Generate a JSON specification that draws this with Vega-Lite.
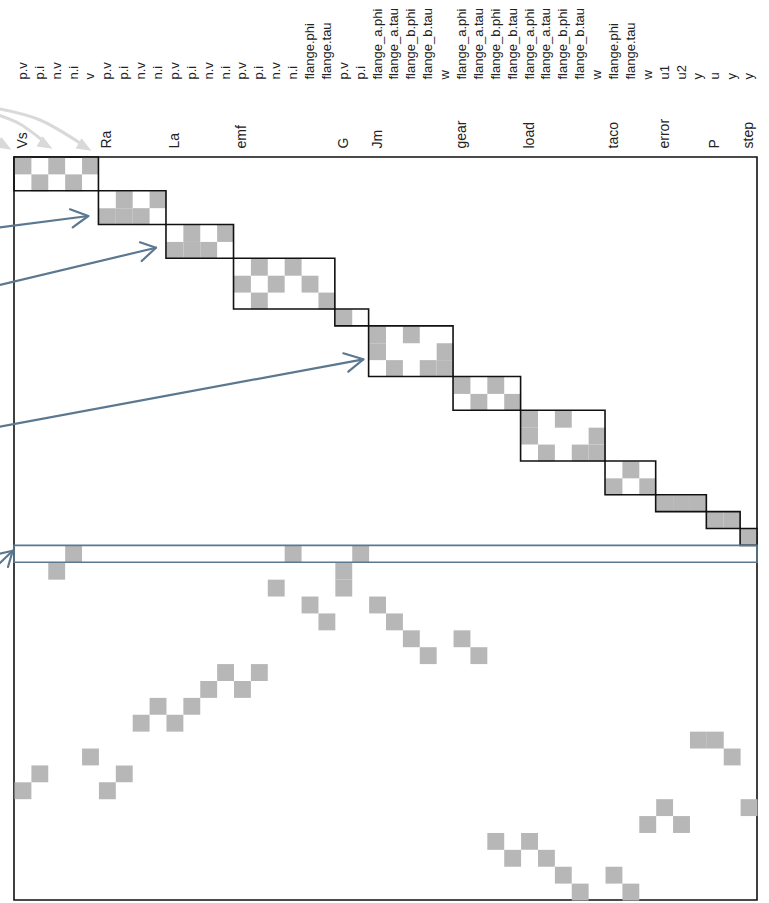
{
  "$schema": "https://vega.github.io/schema/vega-lite/v6.json",
  "width": 743,
  "height": 743,
  "autosize": "none",
  "padding": {"left": 14, "top": 157, "right": 12, "bottom": 3},
  "background": "white",
  "datasets": {
    "cells": [
      {"row": 0, "col": 0}, {"row": 0, "col": 2}, {"row": 0, "col": 4},
      {"row": 1, "col": 1}, {"row": 1, "col": 3},
      {"row": 2, "col": 6}, {"row": 2, "col": 8},
      {"row": 3, "col": 5}, {"row": 3, "col": 6}, {"row": 3, "col": 7},
      {"row": 4, "col": 10}, {"row": 4, "col": 12},
      {"row": 5, "col": 9}, {"row": 5, "col": 10}, {"row": 5, "col": 11},
      {"row": 6, "col": 14}, {"row": 6, "col": 16},
      {"row": 7, "col": 13}, {"row": 7, "col": 15}, {"row": 7, "col": 17},
      {"row": 8, "col": 14}, {"row": 8, "col": 18},
      {"row": 9, "col": 19},
      {"row": 10, "col": 21}, {"row": 10, "col": 23},
      {"row": 11, "col": 21}, {"row": 11, "col": 25},
      {"row": 12, "col": 22}, {"row": 12, "col": 24}, {"row": 12, "col": 25},
      {"row": 13, "col": 26}, {"row": 13, "col": 28},
      {"row": 14, "col": 27}, {"row": 14, "col": 29},
      {"row": 15, "col": 30}, {"row": 15, "col": 32},
      {"row": 16, "col": 30}, {"row": 16, "col": 34},
      {"row": 17, "col": 31}, {"row": 17, "col": 33}, {"row": 17, "col": 34},
      {"row": 18, "col": 36},
      {"row": 19, "col": 35}, {"row": 19, "col": 37},
      {"row": 20, "col": 38}, {"row": 20, "col": 39}, {"row": 20, "col": 40},
      {"row": 21, "col": 41}, {"row": 21, "col": 42},
      {"row": 22, "col": 43},
      {"row": 23, "col": 3}, {"row": 23, "col": 16}, {"row": 23, "col": 20},
      {"row": 24, "col": 2}, {"row": 24, "col": 19},
      {"row": 25, "col": 15}, {"row": 25, "col": 19},
      {"row": 26, "col": 17}, {"row": 26, "col": 21},
      {"row": 27, "col": 18}, {"row": 27, "col": 22},
      {"row": 28, "col": 23}, {"row": 28, "col": 26},
      {"row": 29, "col": 24}, {"row": 29, "col": 27},
      {"row": 30, "col": 12}, {"row": 30, "col": 14},
      {"row": 31, "col": 11}, {"row": 31, "col": 13},
      {"row": 32, "col": 8}, {"row": 32, "col": 10},
      {"row": 33, "col": 7}, {"row": 33, "col": 9},
      {"row": 34, "col": 40}, {"row": 34, "col": 41},
      {"row": 35, "col": 4}, {"row": 35, "col": 42},
      {"row": 36, "col": 1}, {"row": 36, "col": 6},
      {"row": 37, "col": 0}, {"row": 37, "col": 5},
      {"row": 38, "col": 38}, {"row": 38, "col": 43},
      {"row": 39, "col": 37}, {"row": 39, "col": 39},
      {"row": 40, "col": 28}, {"row": 40, "col": 30},
      {"row": 41, "col": 29}, {"row": 41, "col": 31},
      {"row": 42, "col": 32}, {"row": 42, "col": 35},
      {"row": 43, "col": 33}, {"row": 43, "col": 36}
    ],
    "blocks": [
      {"name": "Vs", "c0": 0, "c1": 5, "r0": 0, "r1": 2},
      {"name": "Ra", "c0": 5, "c1": 9, "r0": 2, "r1": 4},
      {"name": "La", "c0": 9, "c1": 13, "r0": 4, "r1": 6},
      {"name": "emf", "c0": 13, "c1": 19, "r0": 6, "r1": 9},
      {"name": "G", "c0": 19, "c1": 21, "r0": 9, "r1": 10},
      {"name": "Jm", "c0": 21, "c1": 26, "r0": 10, "r1": 13},
      {"name": "gear", "c0": 26, "c1": 30, "r0": 13, "r1": 15},
      {"name": "load", "c0": 30, "c1": 35, "r0": 15, "r1": 18},
      {"name": "taco", "c0": 35, "c1": 38, "r0": 18, "r1": 20},
      {"name": "error", "c0": 38, "c1": 41, "r0": 20, "r1": 21},
      {"name": "P", "c0": 41, "c1": 43, "r0": 21, "r1": 22},
      {"name": "step", "c0": 43, "c1": 44, "r0": 22, "r1": 23}
    ],
    "highlight": [{"c0": 0, "c1": 44, "r0": 23, "r1": 24}],
    "bluearrows": [
      {"seg": "a1s", "k": 0, "u": -0.83, "v": 4.163}, {"seg": "a1s", "k": 1, "u": 4.40, "v": 3.494},
      {"seg": "a1h", "k": 0, "u": 3.316, "v": 3.097}, {"seg": "a1h", "k": 1, "u": 4.40, "v": 3.494}, {"seg": "a1h", "k": 2, "u": 3.476, "v": 4.163},
      {"seg": "a2s", "k": 0, "u": -0.83, "v": 7.58}, {"seg": "a2s", "k": 1, "u": 8.409, "v": 5.371},
      {"seg": "a2h", "k": 0, "u": 7.462, "v": 5.052}, {"seg": "a2h", "k": 1, "u": 8.409, "v": 5.371}, {"seg": "a2h", "k": 2, "u": 7.562, "v": 6.159},
      {"seg": "a3s", "k": 0, "u": -0.83, "v": 15.972}, {"seg": "a3s", "k": 1, "u": 20.686, "v": 11.98},
      {"seg": "a3h", "k": 0, "u": 19.502, "v": 11.625}, {"seg": "a3h", "k": 1, "u": 20.686, "v": 11.98}, {"seg": "a3h", "k": 2, "u": 19.798, "v": 12.715},
      {"seg": "a4s", "k": 0, "u": -0.83, "v": 24.044}, {"seg": "a4s", "k": 1, "u": -0.077, "v": 23.315},
      {"seg": "a4h", "k": 0, "u": -1.054, "v": 23.543}, {"seg": "a4h", "k": 1, "u": -0.077, "v": 23.315}, {"seg": "a4h", "k": 2, "u": -0.355, "v": 24.281}
    ],
    "grayshafts": [
      {"seg": "A", "k": 0, "u": -1.125, "v": -2.546}, {"seg": "A", "k": 1, "u": 0.355, "v": -1.954}, {"seg": "A", "k": 2, "u": 1.658, "v": -1.007},
      {"seg": "B", "k": 0, "u": -1.125, "v": -2.902}, {"seg": "B", "k": 1, "u": 1.54, "v": -2.191}, {"seg": "B", "k": 2, "u": 3.909, "v": -0.829},
      {"seg": "C", "k": 0, "u": -1.3, "v": -1.6}, {"seg": "C", "k": 1, "u": -0.829, "v": -1.007}
    ],
    "grayheads": [
      {"u": 1.895, "v": -0.711},
      {"u": 4.205, "v": -0.592},
      {"u": -0.533, "v": -0.651}
    ]
  },
  "layer": [
    {
      "data": {"name": "cells"},
      "mark": {"type": "rect", "fill": "#b7b7b7", "stroke": null},
      "encoding": {
        "x": {"field": "col", "type": "quantitative", "bin": {"step": 1, "extent": [0, 44], "nice": false}, "scale": {"domain": [0, 44], "nice": false, "zero": false}, "axis": null},
        "y": {"field": "row", "type": "quantitative", "bin": {"step": 1, "extent": [0, 44], "nice": false}, "scale": {"domain": [0, 44], "nice": false, "zero": false, "reverse": true}, "axis": null}
      }
    },
    {
      "data": {"name": "blocks"},
      "mark": {"type": "rect", "filled": false, "stroke": "#111111", "strokeWidth": 1.6},
      "encoding": {
        "x": {"field": "c0", "type": "quantitative", "scale": {"domain": [0, 44], "nice": false, "zero": false},
          "axis": {"orient": "top", "title": null, "grid": false, "domain": false, "ticks": false, "tickSize": 0,
            "values": [0.5, 5.5, 9.5, 13.5, 19.5, 21.5, 26.5, 30.5, 35.5, 38.5, 41.5, 43.5],
            "labelExpr": "['Vs','Ra','La','emf','G','Jm','gear','load','taco','error','P','step'][indexof([0.5,5.5,9.5,13.5,19.5,21.5,26.5,30.5,35.5,38.5,41.5,43.5], datum.value)]",
            "labelAngle": -90, "labelAlign": "left", "labelBaseline": "middle", "labelPadding": 9, "labelFontSize": 14, "labelFont": "Liberation Sans", "labelColor": "#222222",
            "labelOverlap": false, "labelFlush": false, "labelBound": false}},
        "x2": {"field": "c1"},
        "y": {"field": "r0", "type": "quantitative", "scale": {"domain": [0, 44], "nice": false, "zero": false, "reverse": true}, "axis": null},
        "y2": {"field": "r1"}
      }
    },
    {
      "data": {"name": "highlight"},
      "mark": {"type": "rect", "filled": false, "stroke": "#5b7890", "strokeWidth": 1.6},
      "encoding": {
        "x": {"field": "c0", "type": "quantitative", "scale": {"domain": [0, 44], "nice": false, "zero": false},
          "axis": {"orient": "top", "offset": 70, "title": null, "grid": false, "domain": false, "ticks": false, "tickSize": 0,
            "values": [0.5, 1.5, 2.5, 3.5, 4.5, 5.5, 6.5, 7.5, 8.5, 9.5, 10.5, 11.5, 12.5, 13.5, 14.5, 15.5, 16.5, 17.5, 18.5, 19.5, 20.5, 21.5, 22.5, 23.5, 24.5, 25.5, 26.5, 27.5, 28.5, 29.5, 30.5, 31.5, 32.5, 33.5, 34.5, 35.5, 36.5, 37.5, 38.5, 39.5, 40.5, 41.5, 42.5, 43.5],
            "labelExpr": "['p.v','p.i','n.v','n.i','v','p.v','p.i','n.v','n.i','p.v','p.i','n.v','n.i','p.v','p.i','n.v','n.i','flange.phi','flange.tau','p.v','p.i','flange_a.phi','flange_a.tau','flange_b.phi','flange_b.tau','w','flange_a.phi','flange_a.tau','flange_b.phi','flange_b.tau','flange_a.phi','flange_a.tau','flange_b.phi','flange_b.tau','w','flange.phi','flange.tau','w','u1','u2','y','u','y','y'][floor(datum.value)]",
            "labelAngle": -90, "labelAlign": "left", "labelBaseline": "middle", "labelPadding": 8, "labelFontSize": 13, "labelFont": "Liberation Sans", "labelColor": "#222222",
            "labelOverlap": false, "labelFlush": false, "labelBound": false}},
        "x2": {"field": "c1"},
        "y": {"field": "r0", "type": "quantitative", "scale": {"domain": [0, 44], "nice": false, "zero": false, "reverse": true}, "axis": null},
        "y2": {"field": "r1"}
      }
    },
    {
      "data": {"name": "bluearrows"},
      "mark": {"type": "line", "stroke": "#5b7890", "strokeWidth": 2.2, "clip": false, "strokeCap": "round", "strokeJoin": "round"},
      "encoding": {
        "x": {"field": "u", "type": "quantitative", "scale": {"domain": [0, 44], "nice": false, "zero": false}, "axis": null},
        "y": {"field": "v", "type": "quantitative", "scale": {"domain": [0, 44], "nice": false, "zero": false, "reverse": true}, "axis": null},
        "detail": {"field": "seg"},
        "order": {"field": "k"}
      }
    },
    {
      "data": {"name": "grayshafts"},
      "mark": {"type": "line", "stroke": "#d9d9d9", "strokeWidth": 3, "clip": false, "interpolate": "monotone"},
      "encoding": {
        "x": {"field": "u", "type": "quantitative", "scale": {"domain": [0, 44], "nice": false, "zero": false}, "axis": null},
        "y": {"field": "v", "type": "quantitative", "scale": {"domain": [0, 44], "nice": false, "zero": false, "reverse": true}, "axis": null},
        "detail": {"field": "seg"},
        "order": {"field": "k"}
      }
    },
    {
      "data": {"name": "grayheads"},
      "mark": {"type": "point", "shape": "M1,0 L-1,-0.8 L-1,0.8 Z", "filled": true, "fill": "#d9d9d9", "opacity": 1, "size": 220, "angle": 30, "clip": false},
      "encoding": {
        "x": {"field": "u", "type": "quantitative", "scale": {"domain": [0, 44], "nice": false, "zero": false}, "axis": null},
        "y": {"field": "v", "type": "quantitative", "scale": {"domain": [0, 44], "nice": false, "zero": false, "reverse": true}, "axis": null}
      }
    }
  ],
  "resolve": {"axis": {"x": "independent", "y": "independent"}},
  "config": {
    "view": {"stroke": "#111111", "strokeWidth": 1.6},
    "font": "Liberation Sans"
  }
}
